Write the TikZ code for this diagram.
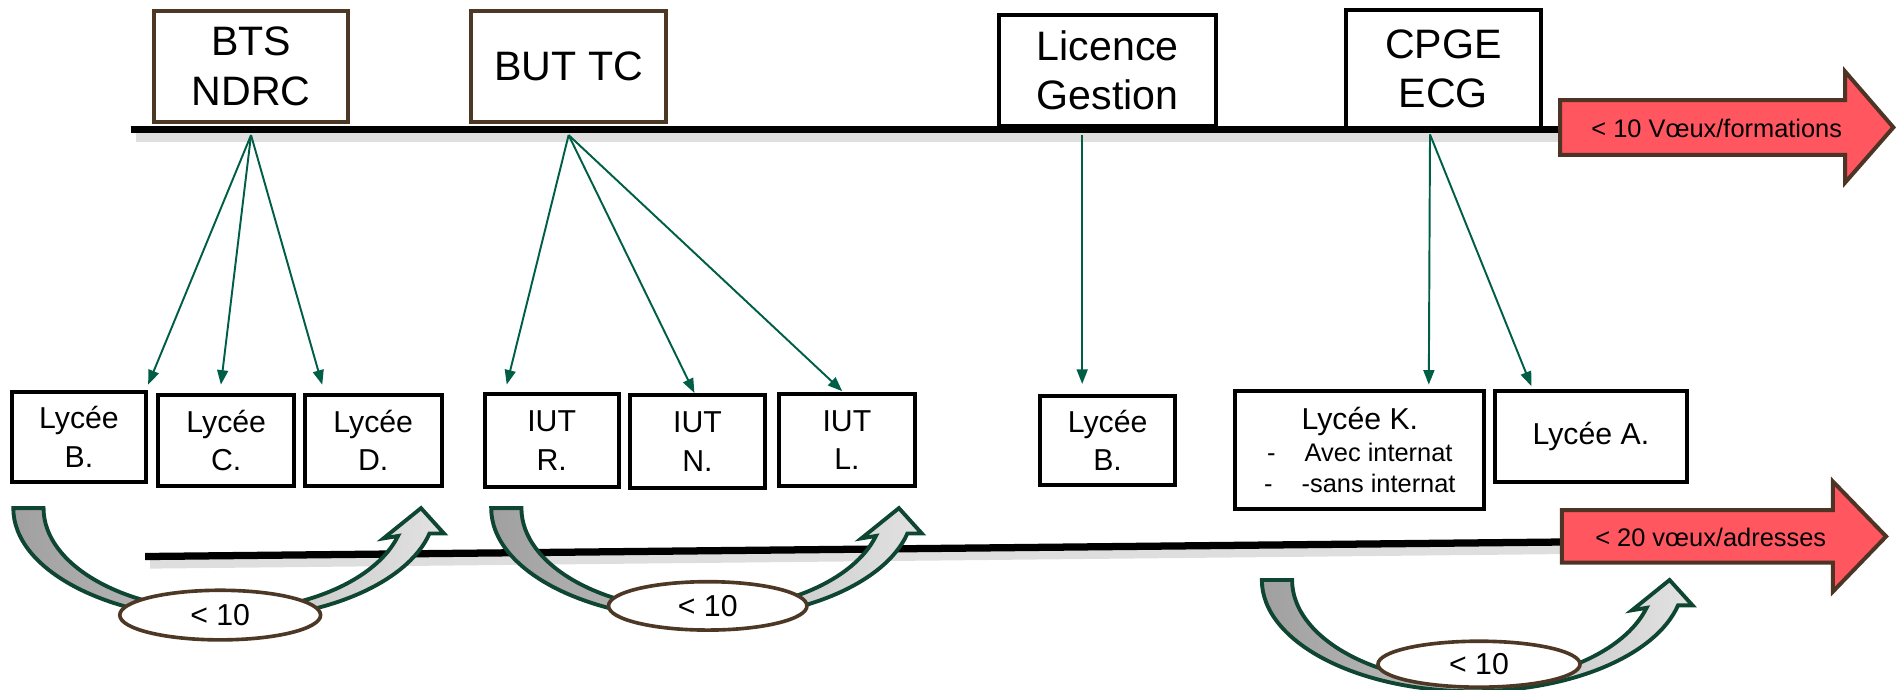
\documentclass[tikz,border=0pt]{standalone}
\usepackage{fontspec}
\setmainfont{Liberation Sans}
\usetikzlibrary{arrows.meta,shapes.geometric}
\definecolor{boxbrown}{RGB}{77,56,38}
\definecolor{conngreen}{RGB}{0,94,70}
\definecolor{arrowred}{RGB}{255,86,96}
\definecolor{arrowbrown}{RGB}{78,52,36}
\definecolor{curvegreen}{RGB}{14,70,50}
\definecolor{greyA}{RGB}{160,160,160}
\definecolor{greyB}{RGB}{226,226,226}
\tikzset{
  bigbox/.style={draw=black, line width=3.3pt, fill=white, inner sep=0pt, align=center, font=\fontsize{34}{41}\selectfont},
  brownbox/.style={bigbox, draw=boxbrown},
  smallbox/.style={draw=black, line width=3.3pt, fill=white, inner sep=0pt, align=center, font=\fontsize{25}{31.7}\selectfont},
  conn/.style={draw=conngreen, line width=1.6pt, -{Triangle[length=12pt,width=9pt]}},
  timeline/.style={line width=6pt, black},
  lineshadow/.style={line width=8pt, black, opacity=0.13},
  redarrow/.style={fill=arrowred, draw=arrowbrown, line width=3.3pt},
  redlabel/.style={font=\fontsize{21}{24}\selectfont, inner sep=0pt},
  countoval/.style={ellipse, draw=boxbrown, line width=3pt, fill=white, inner sep=0pt, font=\fontsize{25}{28}\selectfont},
  pics/curvup/.style={code={
    \path[draw=curvegreen, line width=3.2pt, left color=greyA, right color=greyB]
      (0,0) -- (25,0)
      .. controls (25,46.9) and (91.8,85) .. (174.3,85)
      .. controls (241.2,85) and (299.9,59.6) .. (318,23)
      -- (306,25) -- (337,0) -- (356,21) -- (344,21)
      .. controls (325.5,62.6) and (255.2,92) .. (174.3,92)
      .. controls (78,92) and (0,50.8) .. (0,0) -- cycle;
  }}
}
\begin{document}
\begin{tikzpicture}[x=1pt,y=-1pt]
\useasboundingbox (0,0) rectangle (1568,570);
% timelines
\draw[lineshadow] (112,113) -- (1290,113);
\draw[timeline] (108,107) -- (1292,107);
\draw[lineshadow] (124,466) -- (1290,454);
\draw[timeline] (120,460) -- (1292,448);
% top boxes
\node[brownbox, minimum width=161pt, minimum height=92pt] (bts) at (207.5,55) {BTS\\NDRC};
\node[brownbox, minimum width=161pt, minimum height=92pt] (but) at (470,55) {BUT TC};
\node[bigbox, minimum width=180pt, minimum height=92pt] (lic) at (915.5,58) {Licence\\Gestion};
\node[bigbox, minimum width=161pt, minimum height=97pt] (cpge) at (1193,57) {CPGE\\ECG};
% bottom boxes
\node[smallbox, minimum width=111pt, minimum height=74pt] (lycB) at (65.3,361) {Lycée\\B.};
\node[smallbox, minimum width=112pt, minimum height=75pt] (lycC) at (187,364) {Lycée\\C.};
\node[smallbox, minimum width=113pt, minimum height=75pt] (lycD) at (308.5,364) {Lycée\\D.};
\node[smallbox, minimum width=111pt, minimum height=77pt] (iutR) at (456,364.2) {IUT\\R.};
\node[smallbox, minimum width=112pt, minimum height=77pt] (iutN) at (576.5,365) {IUT\\N.};
\node[smallbox, minimum width=112pt, minimum height=76pt] (iutL) at (700,364) {IUT\\L.};
\node[smallbox, minimum width=111pt, minimum height=74pt] (lycB2) at (915.5,364) {Lycée\\B.};
\node[smallbox, minimum width=206pt, minimum height=98pt, font=\fontsize{21}{25.5}\selectfont] (lycK) at (1124,372)
  {{\fontsize{25}{28}\selectfont Lycée K.}\\[1pt]\makebox[31pt][l]{-}Avec internat\\\makebox[31pt][l]{-}-sans internat};
\node[smallbox, minimum width=158pt, minimum height=75pt] (lycA) at (1315,360.5) {Lycée A.};
% connectors
\draw[conn] ([yshift=-9pt]bts.south) -- ([yshift=4.4pt]lycB.north east);
\draw[conn] ([yshift=-9pt]bts.south) -- ([xshift=-4.4pt,yshift=6.9pt]lycC.north);
\draw[conn] ([yshift=-9pt]bts.south) -- ([xshift=16pt,yshift=6.9pt]lycD.north west);
\draw[conn] ([yshift=-9pt]but.south) -- ([xshift=20pt,yshift=6.2pt]iutR.north west);
\draw[conn] ([yshift=-9pt]but.south) -- ([xshift=-2.5pt]iutN.north);
\draw[conn] ([yshift=-9pt]but.south) -- ([xshift=-3.8pt,yshift=1pt]iutL.north);
\draw[conn] ([xshift=-21pt,yshift=-6pt]lic.south) -- ([xshift=-21pt,yshift=8pt]lycB2.north);
\draw[conn] ([xshift=-11pt,yshift=-4pt]cpge.south) -- ([xshift=57pt,yshift=3.4pt]lycK.north);
\draw[conn] ([xshift=-11pt,yshift=-4pt]cpge.south) -- ([xshift=31.4pt,yshift=2.2pt]lycA.north west);
% red arrows
\path[redarrow] (1289.5,82.7) -- (1525,82.7) -- (1525,59) -- (1565,105.3) -- (1525,151) -- (1525,128) -- (1289.5,128) -- cycle;
\node[redlabel] (lbl10) at (1419,106) {< 10 Vœux/formations};
\path[redarrow] (1291,421.6) -- (1515,421.6) -- (1515,398) -- (1559,443.4) -- (1515,489) -- (1515,465) -- (1291,465) -- cycle;
\node[redlabel] (lbl20) at (1414,444.5) {< 20 vœux/adresses};
% curved arrows
\pic at (11,420) {curvup};
\pic at (406,420) {curvup};
\pic at (1043,479.4) {curvup};
% counts
\node[countoval, minimum width=166pt, minimum height=41pt] (ov1) at (182,508.4) {< 10};
\node[countoval, minimum width=164pt, minimum height=40pt] (ov2) at (585,500.8) {< 10};
\node[countoval, minimum width=167pt, minimum height=38pt] (ov3) at (1222.5,549) {< 10};
\end{tikzpicture}
\end{document}
